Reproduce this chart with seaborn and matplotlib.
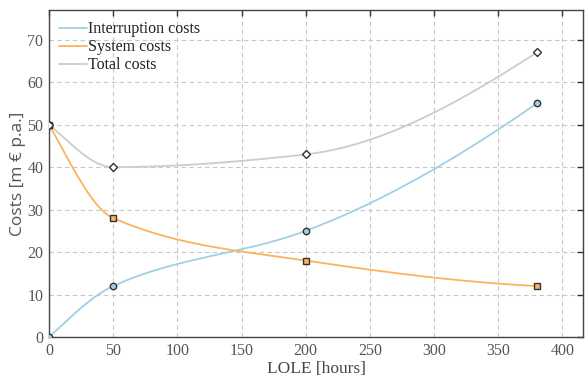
import numpy as np
import pandas as pd
import matplotlib
matplotlib.use("Agg")
import matplotlib.pyplot as plt
import seaborn as sns

lole = [0, 50, 200, 380]
interruption = [0, 12, 25, 55]
system = [50, 28, 18, 12]
total = [50, 40, 43, 67]
xticks = [0, 50, 100, 150, 200, 250, 300, 350, 400]
yticks = [0, 10, 20, 30, 40, 50, 60, 70]


def pchip(x, y, xn):
    x = np.asarray(x, float); y = np.asarray(y, float)
    h = np.diff(x); d = np.diff(y) / h
    n = len(x); m = np.zeros(n)
    for k in range(1, n - 1):
        if d[k - 1] * d[k] > 0:
            w1 = 2 * h[k] + h[k - 1]; w2 = h[k] + 2 * h[k - 1]
            m[k] = (w1 + w2) / (w1 / d[k - 1] + w2 / d[k])
    def end(h0, h1, d0, d1):
        mm = ((2 * h0 + h1) * d0 - h0 * d1) / (h0 + h1)
        if np.sign(mm) != np.sign(d0):
            mm = 0
        elif np.sign(d0) != np.sign(d1) and abs(mm) > abs(3 * d0):
            mm = 3 * d0
        return mm
    m[0] = end(h[0], h[1], d[0], d[1])
    m[-1] = end(h[-1], h[-2], d[-1], d[-2])
    out = np.empty_like(xn)
    for i, xv in enumerate(xn):
        k = min(max(np.searchsorted(x, xv) - 1, 0), n - 2)
        t = (xv - x[k]) / h[k]
        h00 = 2 * t**3 - 3 * t**2 + 1; h10 = t**3 - 2 * t**2 + t
        h01 = -2 * t**3 + 3 * t**2; h11 = t**3 - t**2
        out[i] = h00 * y[k] + h10 * h[k] * m[k] + h01 * y[k + 1] + h11 * h[k] * m[k + 1]
    return out


sns.set_style("white")
plt.rcParams['font.family'] = ['Liberation Serif', 'DejaVu Serif']

fig = plt.figure(figsize=(5.85, 3.76), dpi=100)
ax = fig.add_axes([0.0838, 0.1037, 0.9128, 0.8697])

c_int = '#9fd0e6'
c_sys = '#fbb45c'
c_tot = '#cccccc'

xs = np.linspace(0, 380, 400)
series = [("Interruption costs", interruption, c_int, 'o', c_int),
          ("System costs", system, c_sys, 's', c_sys),
          ("Total costs", total, c_tot, 'D', 'white')]
for name, vals, col, mk, fc in series:
    curve = pd.DataFrame({"x": xs, "y": pchip(lole, vals, xs)})
    sns.lineplot(data=curve, x="x", y="y", ax=ax, color=col, lw=1.3, label=name, zorder=3)
for name, vals, col, mk, fc in series:
    pts = pd.DataFrame({"x": lole, "y": vals})
    ms = {'o': 4.6, 's': 4.4, 'D': 4.0}[mk]
    ax.plot(pts["x"], pts["y"], ls='none', marker=mk, ms=ms,
            mfc=fc, mec='#333333', mew=1.0, zorder=4)

ax.set_xlim(0, 416)
ax.set_ylim(0, 77)
ax.set_xticks(xticks)
ax.set_yticks(yticks)
ax.grid(True, ls=(0, (4, 3)), color='#c8c8c8', lw=0.8)
ax.tick_params(direction='in', length=4, width=1, colors='#333333', labelcolor='#555555',
               labelsize=11.5, top=True, right=True, pad=4)
for s in ax.spines.values():
    s.set_color('#444444'); s.set_linewidth(1.0)

ax.set_xlabel("LOLE [hours]", fontsize=12.5, color='#444444', labelpad=2)
ax.set_ylabel("Costs [m € p.a.]", fontsize=12.5, color='#555555', labelpad=1,
              family=['Open Sans', 'DejaVu Sans'])

leg = ax.legend(loc='upper left', frameon=False, fontsize=11.5, handlelength=1.75,
                handletextpad=0.05, labelspacing=0.12, borderaxespad=0.0,
                bbox_to_anchor=(0.007, 0.985))
for t in leg.get_texts():
    t.set_color('#222222')

fig.savefig("out.png", dpi=100)
